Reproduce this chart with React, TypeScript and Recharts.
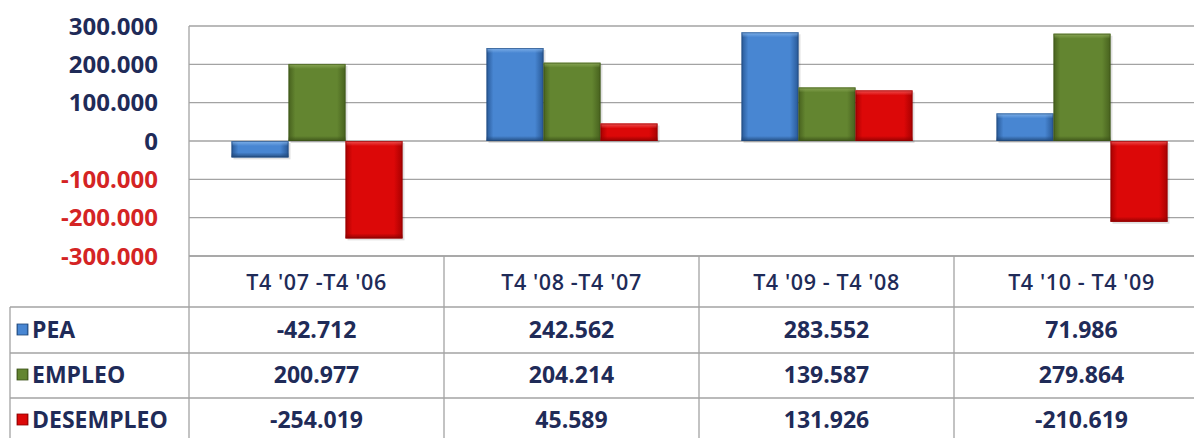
import React from "react";
import { BarChart, Bar, XAxis, YAxis, CartesianGrid } from "recharts";

const categories = ["T4 '07 -T4 '06", "T4 '08 -T4 '07", "T4 '09 - T4 '08", "T4 '10 - T4 '09"];
const pea = [-42712, 242562, 283552, 71986];
const empleo = [200977, 204214, 139587, 279864];
const desempleo = [-254019, 45589, 131926, -210619];
const peaLabels = ["-42.712", "242.562", "283.552", "71.986"];
const empleoLabels = ["200.977", "204.214", "139.587", "279.864"];
const desempleoLabels = ["-254.019", "45.589", "131.926", "-210.619"];
const yTicks = [-300000, -200000, -100000, 0, 100000, 200000, 300000];
const yTickLabels = ["-300.000", "-200.000", "-100.000", "0", "100.000", "200.000", "300.000"];

const seriesNames = ["PEA", "EMPLEO", "DESEMPLEO"];

const data = categories.map((c, i) => ({
  cat: c,
  PEA: pea[i],
  EMPLEO: empleo[i],
  DESEMPLEO: desempleo[i],
}));
const rowLabels = [peaLabels, empleoLabels, desempleoLabels];

// layout
const CHART_W = 1220;
const CHART_H = 460;
const M_TOP = 26;
const M_RIGHT = 11;
const Y_W = 189;
const X_H = 204;
const PLOT_W = CHART_W - Y_W - M_RIGHT;
const BAND = PLOT_W / categories.length;
const GRID = "#a3a3a3";
const NAVY = "#1f2b58";
const RED_TXT = "#d42424";
const FONT = "'Open Sans', 'Liberation Sans', sans-serif";

const palette: Record<string, { edge: string; mid: string; light: string; dark: string }> = {
  PEA: { edge: "#285896", mid: "#4886d2", light: "#86b6ec", dark: "#1f4677" },
  EMPLEO: { edge: "#47611e", mid: "#638530", light: "#8eaa5a", dark: "#3b5118" },
  DESEMPLEO: { edge: "#a80000", mid: "#dc0808", light: "#f25a5a", dark: "#8c0000" },
};

const makeShape = (key: string) => (props: any) => {
  const { x, y, width, height } = props;
  if (width == null || height == null) return null;
  const top = Math.min(y, y + height);
  const h = Math.abs(height);
  const b = Math.min(5, h / 3);
  return (
    <g>
      <rect x={x + 2} y={top + 2} width={width} height={h} fill="rgba(0,0,0,0.12)" />
      <rect x={x} y={top} width={width} height={h} fill={`url(#g-${key})`} />
      <rect x={x} y={top} width={width} height={b} fill={`url(#t-${key})`} />
      <rect x={x} y={top + h - b} width={width} height={b} fill={`url(#b-${key})`} />
      <rect x={x + 0.5} y={top + 0.5} width={width - 1} height={Math.max(0, h - 1)} fill="none" stroke={palette[key].dark} strokeOpacity={0.6} />
    </g>
  );
};

const YTick = (props: any) => {
  const { x, y, payload } = props;
  const idx = yTicks.indexOf(payload.value);
  const neg = payload.value < 0;
  return (
    <text x={x} y={y} dy="0.36em" textAnchor="end" fontFamily={FONT} fontWeight={700} fontSize={24} fill={neg ? RED_TXT : NAVY}>
      {yTickLabels[idx]}
    </text>
  );
};

const XTick = (props: any) => {
  const { x, y, payload, index } = props;
  const left = x - BAND / 2;
  const rowsY = [51, 97, 142];
  const centers = [74, 119, 164];
  return (
    <g>
      <line x1={left} x2={left} y1={y} y2={y + 200} stroke={GRID} strokeWidth={1.3} />
      <text x={x} y={y + 26} dy="0.36em" textAnchor="middle" fontFamily={FONT} fontWeight={600} fontSize={21.5} letterSpacing={0.6} fill={NAVY}>
        {payload.value}
      </text>
      {rowLabels.map((labels, r) => (
        <text key={r} x={x} y={y + centers[r]} dy="0.36em" textAnchor="middle" fontFamily={FONT} fontWeight={700} fontSize={23} fill={NAVY}>
          {labels[index]}
        </text>
      ))}
      {index === 0 && (
        <g>
          {rowsY.map((ry, r) => (
            <line key={r} x1={10} x2={CHART_W} y1={y + ry} y2={y + ry} stroke={GRID} strokeWidth={1.3} />
          ))}
          <line x1={10} x2={10} y1={y + rowsY[0]} y2={y + 200} stroke={GRID} strokeWidth={1.3} />
          {seriesNames.map((s, r) => (
            <g key={s}>
              <rect x={17} y={y + centers[r] - 6} width={11} height={11} fill={`url(#g-${s})`} stroke={palette[s].dark} strokeWidth={0.8} />
              <text x={32} y={y + centers[r]} dy="0.36em" textAnchor="start" fontFamily={FONT} fontWeight={700} fontSize={23} fill={NAVY}>
                {s}
              </text>
            </g>
          ))}
        </g>
      )}
    </g>
  );
};

export default function App() {
  return (
    <div style={{ position: "absolute", left: 0, top: 0, width: 1194, height: 438, overflow: "hidden", background: "#fff" }}>
      <BarChart
        width={CHART_W}
        height={CHART_H}
        data={data}
        margin={{ top: M_TOP, right: M_RIGHT, bottom: 0, left: 0 }}
        barCategoryGap="16.67%"
        barGap={0}
      >
        <defs>
          {seriesNames.map((s) => (
            <React.Fragment key={s}>
              <linearGradient id={`g-${s}`} x1="0" y1="0" x2="1" y2="0">
                <stop offset="0%" stopColor={palette[s].edge} />
                <stop offset="12%" stopColor={palette[s].mid} />
                <stop offset="85%" stopColor={palette[s].mid} />
                <stop offset="100%" stopColor={palette[s].edge} />
              </linearGradient>
              <linearGradient id={`t-${s}`} x1="0" y1="0" x2="0" y2="1">
                <stop offset="0%" stopColor={palette[s].light} stopOpacity={0.9} />
                <stop offset="100%" stopColor={palette[s].light} stopOpacity={0} />
              </linearGradient>
              <linearGradient id={`b-${s}`} x1="0" y1="0" x2="0" y2="1">
                <stop offset="0%" stopColor={palette[s].dark} stopOpacity={0} />
                <stop offset="100%" stopColor={palette[s].dark} stopOpacity={0.9} />
              </linearGradient>
            </React.Fragment>
          ))}
        </defs>
        <CartesianGrid vertical={false} stroke={GRID} strokeWidth={1.3} />
        <XAxis
          dataKey="cat"
          height={X_H}
          interval={0}
          tickLine={false}
          tickSize={0}
          tickMargin={0}
          axisLine={{ stroke: GRID, strokeWidth: 1.3 }}
          tick={<XTick />}
        />
        <YAxis
          width={Y_W}
          domain={[-300000, 300000]}
          ticks={yTicks}
          tickLine={false}
          tickSize={0}
          tickMargin={31}
          axisLine={{ stroke: GRID, strokeWidth: 1.3 }}
          tick={<YTick />}
        />
        {seriesNames.map((s) => (
          <Bar key={s} dataKey={s} isAnimationActive={false} shape={makeShape(s)} />
        ))}
      </BarChart>
    </div>
  );
}
